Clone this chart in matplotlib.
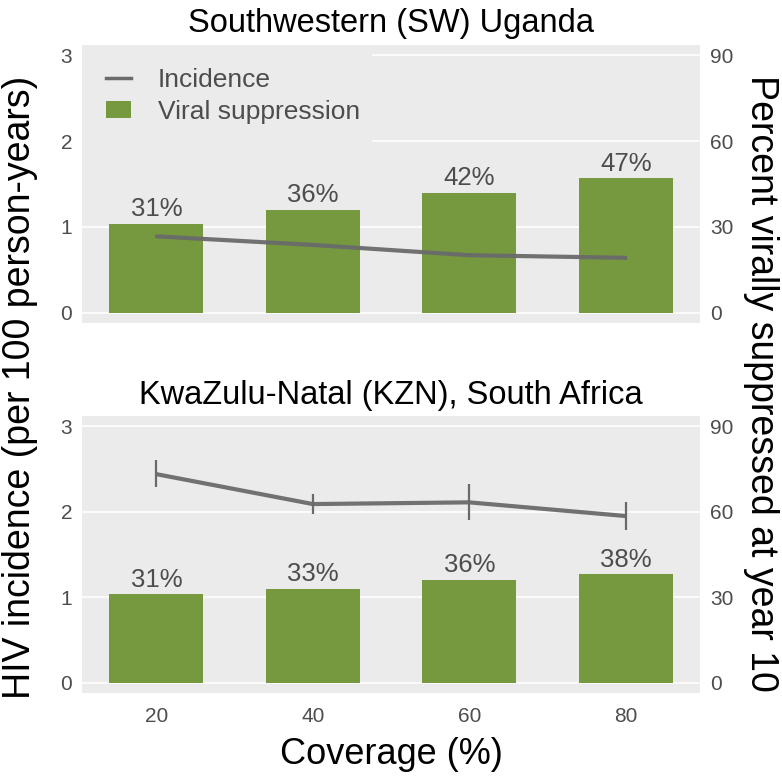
import matplotlib
matplotlib.use("Agg")
import matplotlib.pyplot as plt
from matplotlib.lines import Line2D
from matplotlib.patches import Patch, Rectangle

plt.rcParams["font.family"] = ["Liberation Sans", "DejaVu Sans"]

# data
coverage = [20, 40, 60, 80]

sw_suppression = [31, 36, 42, 47]          # percent virally suppressed
sw_incidence = [0.89, 0.79, 0.67, 0.64]    # per 100 person-years
sw_inc_low = [0.87, 0.77, 0.65, 0.62]
sw_inc_high = [0.91, 0.81, 0.69, 0.66]

kzn_suppression = [31, 33, 36, 38]
kzn_incidence = [2.44, 2.09, 2.11, 1.95]
kzn_inc_low = [2.29, 1.97, 1.90, 1.79]
kzn_inc_high = [2.61, 2.21, 2.32, 2.11]

titles = ["Southwestern (SW) Uganda", "KwaZulu-Natal (KZN), South Africa"]

BAR_COLOR = "#76993F"
LINE_COLOR = "#6A6A6A"
PANEL_BG = "#EBEBEB"
TEXT_GRAY = "#4D4D4D"
SCALE = 30.0  # right axis = left axis * 30

fig = plt.figure(figsize=(7.82, 7.77), dpi=100)
ax_top = fig.add_axes([0.1049, 0.5843, 0.7903, 0.3578])
ax_bot = fig.add_axes([0.1049, 0.1081, 0.7903, 0.3565])

panels = [
    (ax_top, sw_suppression, sw_incidence, sw_inc_low, sw_inc_high),
    (ax_bot, kzn_suppression, kzn_incidence, kzn_inc_low, kzn_inc_high),
]

for i, (ax, supp, inc, lo, hi) in enumerate(panels):
    ax.set_facecolor(PANEL_BG)
    for side in ax.spines.values():
        side.set_visible(False)
    ax.set_axisbelow(True)
    ax.grid(axis="y", color="white", linewidth=1.2)

    # bars live on the left scale, converted from percent
    heights = [s / SCALE for s in supp]
    ax.bar(coverage, heights, width=12, color=BAR_COLOR, zorder=2)
    for x, h, s in zip(coverage, heights, supp):
        ax.text(x, h + 0.09, f"{s}%", ha="center", va="baseline",
                fontsize=18.5, color=TEXT_GRAY, zorder=4)

    # incidence line with error bars
    ax.plot(coverage, inc, color=LINE_COLOR, linewidth=3.0, alpha=0.95,
            zorder=3, solid_capstyle="butt")
    ax.vlines(coverage, lo, hi, color=LINE_COLOR, linewidth=1.6, zorder=3)

    ax.set_xlim(10.5, 89.5)
    ax.set_ylim(-0.12, 3.12)
    ax.set_yticks([0, 1, 2, 3])
    ax.tick_params(axis="y", length=0, labelsize=15, labelcolor=TEXT_GRAY,
                   pad=7)
    ax.tick_params(axis="x", length=0, labelsize=15, labelcolor=TEXT_GRAY,
                   pad=10)

    sec = ax.secondary_yaxis("right", functions=(lambda y: y * SCALE,
                                                 lambda y: y / SCALE))
    sec.set_yticks([0, 30, 60, 90])
    sec.tick_params(length=0, labelsize=15, labelcolor=TEXT_GRAY, pad=7)
    for side in sec.spines.values():
        side.set_visible(False)

    ax.set_title(titles[i], fontsize=23.5, pad=9)

    ax.set_xticks(coverage)
    if i == 0:
        ax.set_xticklabels([])
    else:
        ax.set_xlabel("Coverage (%)", fontsize=26, labelpad=8)

# legend background hides the gridlines behind it
ax_top.add_patch(Rectangle((0, 0.6), 0.469, 0.4, transform=ax_top.transAxes,
                           facecolor=PANEL_BG, edgecolor="none", zorder=1.5))
handles = [
    Line2D([0], [0], color=LINE_COLOR, linewidth=2.5),
    Patch(facecolor=BAR_COLOR, edgecolor="none"),
]
leg = ax_top.legend(handles, ["Incidence", "Viral suppression"],
                    loc="upper left", bbox_to_anchor=(0.039, 0.918),
                    fontsize=19, frameon=False,
                    handlelength=0.95, handleheight=0.65, handletextpad=1.0,
                    labelspacing=0.3, borderpad=0, borderaxespad=0)
for t in leg.get_texts():
    t.set_color(TEXT_GRAY)

fig.text(0.026, 0.502, "HIV incidence (per 100 person-years)", rotation=90,
         ha="center", va="center", fontsize=27)
fig.text(0.973, 0.507, "Percent virally suppressed at year 10", rotation=270,
         ha="center", va="center", fontsize=27)

fig.savefig("out.png", dpi=100)
